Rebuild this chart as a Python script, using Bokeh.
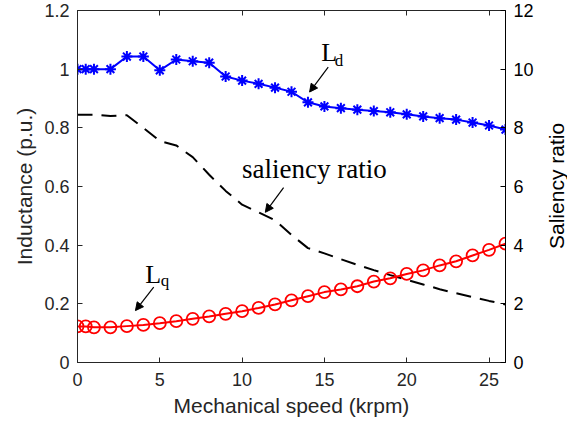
import math
from bokeh.plotting import figure
from bokeh.layouts import row
from bokeh.models import (LinearAxis, Range1d, FixedTicker, Label, Arrow, NormalHead, ColumnDataSource, Div)
from bokeh.embed import file_html
from bokeh.resources import INLINE

# ---- data ----
speed = [0, 0.5, 1, 2, 3, 4, 5, 6, 7, 8, 9, 10, 11, 12, 13, 14, 15, 16, 17, 18, 19, 20, 21, 22, 23, 24, 25, 26]
Ld = [1.0, 1.0, 1.0, 1.0, 1.043, 1.043, 0.996, 1.033, 1.027, 1.022, 0.975, 0.961, 0.950, 0.937, 0.923,
      0.887, 0.873, 0.867, 0.862, 0.857, 0.853, 0.846, 0.839, 0.833, 0.828, 0.818, 0.808, 0.794]
Lq = [0.123, 0.123, 0.120, 0.120, 0.124, 0.128, 0.134, 0.141, 0.149, 0.157, 0.166, 0.175, 0.186, 0.198,
      0.212, 0.226, 0.240, 0.249, 0.260, 0.276, 0.287, 0.302, 0.314, 0.331, 0.345, 0.365, 0.384, 0.405]
saliency = [8.45, 8.45, 8.45, 8.40, 8.43, 8.0, 7.55, 7.40, 7.0, 6.4, 5.85, 5.38, 5.12, 4.85, 4.35,
            3.90, 3.72, 3.52, 3.33, 3.15, 2.98, 2.82, 2.66, 2.50, 2.36, 2.23, 2.10, 1.98]
x_ticks = [0, 5, 10, 15, 20, 25]
left_ticks = [0, 0.2, 0.4, 0.6, 0.8, 1.0, 1.2]
left_tick_labels = ["0", "0.2", "0.4", "0.6", "0.8", "1", "1.2"]
right_ticks = [0, 2, 4, 6, 8, 10, 12]

AX = "#262626"
SANS = "Liberation Sans"
SERIF = "Liberation Serif"

p = figure(width=545, height=435, output_backend="svg", toolbar_location=None,
           x_range=Range1d(0, 26), y_range=Range1d(0, 1.2),
           min_border_left=77, min_border_right=40, min_border_top=10, min_border_bottom=73)
p.extra_y_ranges = {"sr": Range1d(0, 12)}
p.grid.visible = False
p.outline_line_color = AX
p.outline_line_width = 1
p.background_fill_color = "white"
p.border_fill_color = "white"

src = ColumnDataSource(dict(x=speed, ld=Ld, lq=Lq, sr=saliency))

p.line("x", "sr", source=src, y_range_name="sr", line_color="black", line_width=2, line_dash="15 9")
p.line("x", "ld", source=src, line_color="#0000FF", line_width=2)
p.scatter("x", "ld", source=src, marker="asterisk", size=11, line_color="#0000FF", line_width=2)
p.line("x", "lq", source=src, line_color="#FF0000", line_width=2)
p.scatter("x", "lq", source=src, marker="circle", size=12, line_color="#FF0000", fill_color=None, line_width=1.8)

def style(ax, color=AX):
    ax.axis_line_color = color
    ax.major_tick_line_color = color
    ax.axis_line_width = 1
    ax.major_tick_in = 5
    ax.major_tick_out = 0
    ax.minor_tick_line_color = None
    ax.major_label_text_font = SANS
    ax.major_label_text_font_size = "18px"
    ax.major_label_text_color = color
    ax.axis_label_text_font = SANS
    ax.axis_label_text_font_size = "21px"
    ax.axis_label_text_font_style = "normal"
    ax.axis_label_text_color = color

xa = p.xaxis[0]
style(xa)
xa.ticker = FixedTicker(ticks=x_ticks)
xa.axis_label = "Mechanical speed (krpm)"
xa.major_label_standoff = 10
xa.axis_label_standoff = 5

ya = p.yaxis[0]
style(ya)
ya.ticker = FixedTicker(ticks=left_ticks)
ya.major_label_overrides = {t: s for t, s in zip(left_ticks, left_tick_labels)}
ya.axis_label = "Inductance (p.u.)"
ya.major_label_standoff = 8
ya.axis_label_standoff = 5

ra = LinearAxis(y_range_name="sr", ticker=FixedTicker(ticks=right_ticks))
style(ra, "black")
ra.major_label_standoff = 8
p.add_layout(ra, "right")

ta = LinearAxis(ticker=FixedTicker(ticks=x_ticks))
style(ta)
ta.major_label_overrides = {t: "" for t in x_ticks}
ta.major_label_text_font_size = "0px"
ta.major_label_standoff = 0
p.add_layout(ta, "above")

# ---- annotations ----
def lab(x, y, t, size):
    p.add_layout(Label(x=x, y=y, text=t, text_font=SERIF, text_font_size=size,
                       text_color="black", text_baseline="middle", text_align="left"))

lab(14.8, 1.058, "L", "26px")
lab(15.62, 1.030, "d", "17px")
lab(4.12, 0.299, "L", "26px")
lab(5.05, 0.280, "q", "17px")
lab(9.99, 0.659, "saliency ratio", "27px")

def arr(x0, y0, x1, y1):
    p.add_layout(Arrow(end=NormalHead(size=8, fill_color="black", line_color="black", line_width=1),
                       x_start=x0, y_start=y0, x_end=x1, y_end=y1, line_color="black", line_width=1.2))

arr(15.23, 1.007, 14.1, 0.922)
arr(12.52, 0.596, 11.41, 0.512)
arr(4.63, 0.257, 3.52, 0.177)

# right-hand axis title (reads bottom-to-top, like the reference)
title_html = ('<div style="position:absolute; left:0px; top:10px; height:352px; width:24px; '
              'writing-mode:vertical-rl; transform:rotate(180deg); text-align:center; '
              'white-space:nowrap; line-height:24px; font-family:\'Liberation Sans\'; '
              'font-size:21px; color:black;">Saliency ratio</div>')
right_title = Div(text=title_html, width=22, height=435, margin=0,
                  styles={"position": "relative", "overflow": "visible"})

layout = row(p, right_title, spacing=0)
open("out.html", "w").write(file_html(layout, INLINE))
